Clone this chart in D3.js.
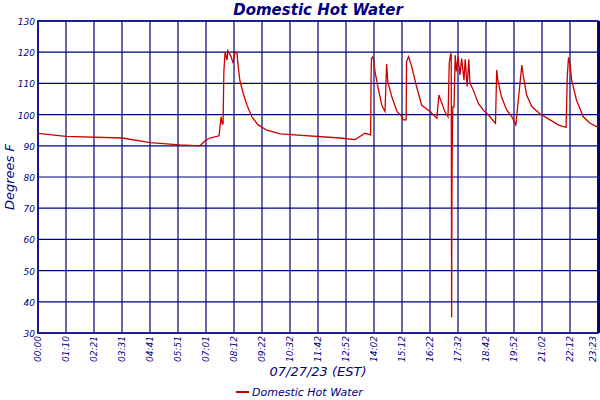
<!DOCTYPE html>
<html><head><meta charset="utf-8">
<script src="https://cdn.jsdelivr.net/npm/d3@7"></script>
<style>body{margin:0;background:#fff}</style></head>
<body><svg id="c" width="600" height="400"></svg>
<script>
const tickLabels=["00:00","01:10","02:21","03:31","04:41","05:51","07:01","08:12","09:22","10:32","11:42","12:52","14:02","15:12","16:22","17:32","18:42","19:52","21:02","22:12","23:23"];
const yTicks=[30,40,50,60,70,80,90,100,110,120,130];
const minutes=[0,70,211,281,356,406,419,431,454,459,462,464,466,469,474,476,484,489,494,499,501,506,514,524,536,552,574,607,757,795,820,834,835,836,840,845,852,862,870,874,877,887,900,913,915,923,924,929,937,949,962,983,1000,1005,1008,1020,1028,1031,1035,1036,1037,1038,1039,1040,1043,1046,1049,1053,1058,1062,1068,1071,1076,1080,1083,1091,1104,1116,1133,1147,1150,1153,1162,1175,1188,1198,1213,1217,1225,1238,1259,1284,1304,1324,1327,1330,1334,1338,1350,1367,1384,1404];
const temps=[94,93,92.5,91,90.3,90,91.6,92.5,93.2,99.3,97,97,113.8,120,117.5,120.5,118.6,116.5,120,119.8,116.5,111,107,103,99.3,96.7,95,93.8,92.5,92,94,93.5,111,118,118.6,113.8,109,103,101,116.2,110.5,105.7,101,99.3,98.3,98.3,117,118.6,115.4,109,103,101,98.8,106.3,105.2,101,99.3,116.4,119.6,119,35,80,95,102.5,102.5,119,113.8,118.6,112.7,118,111,117.7,109,117.7,110,108,103.6,101.5,99.3,97.2,114.3,111,105.7,101.5,99.3,96.7,115.9,112.2,106.3,102.6,100.2,98.3,96.7,95.9,112.2,118.3,116,111,104.7,99.3,97.2,95.9];
const navy="#000080", red="#cc0000", F="DejaVu Sans, sans-serif";
const svg=d3.select("#c");
const L=38,R=598,T=21,B=333;
const step=1404/20;
const x=d3.scaleLinear().domain([0,1404]).range([L,R]);
const y=d3.scaleLinear().domain([30,130]).range([B,T]);
const g=svg.append("g");
g.selectAll(".vg").data(tickLabels).enter().append("line")
 .attr("x1",(d,i)=>x(i*step)).attr("x2",(d,i)=>x(i*step)).attr("y1",T).attr("y2",B)
 .attr("stroke",navy).attr("stroke-width",1.2);
g.selectAll(".hg").data(yTicks).enter().append("line")
 .attr("x1",L).attr("x2",R).attr("y1",d=>y(d)).attr("y2",d=>y(d))
 .attr("stroke",navy).attr("stroke-width",1.2);
g.append("rect").attr("x",L).attr("y",T).attr("width",R-L).attr("height",B-T).attr("fill","none").attr("stroke",navy).attr("stroke-width",1.5);
g.append("line").attr("x1",R+1).attr("x2",R+1).attr("y1",T).attr("y2",B).attr("stroke",navy).attr("stroke-width",3);
g.selectAll(".yl").data(yTicks).enter().append("text")
 .attr("x",L-3).attr("y",d=>y(d)+4).attr("text-anchor","end")
 .attr("font-family",F).attr("font-style","italic").attr("font-size",9).attr("fill",navy).text(d=>d);
g.selectAll(".xl").data(tickLabels).enter().append("text")
 .attr("transform",(d,i)=>`translate(${Math.min(x(i*step)+3,596)},${B+3}) rotate(-90)`).attr("text-anchor","end")
 .attr("font-family",F).attr("font-style","italic").attr("font-size",9).attr("fill",navy).text(d=>d);
const data=minutes.map((m,i)=>({m,t:temps[i]}));
g.append("path").datum(data).attr("fill","none").attr("stroke",red).attr("stroke-width",1.3)
 .attr("d",d3.line().x(d=>x(d.m)).y(d=>y(d.t)));
svg.append("text").attr("x",318).attr("y",15).attr("text-anchor","middle").attr("font-family",F)
 .attr("font-style","italic").attr("font-weight","bold").attr("font-size",15).attr("fill",navy).text("Domestic Hot Water");
svg.append("text").attr("transform","translate(14,177) rotate(-90)").attr("text-anchor","middle").attr("font-family",F)
 .attr("font-style","italic").attr("font-size",13).attr("fill",navy).text("Degrees F");
svg.append("text").attr("x",318).attr("y",376).attr("text-anchor","middle").attr("font-family",F)
 .attr("font-style","italic").attr("font-size",13).attr("fill",navy).text("07/27/23 (EST)");
svg.append("line").attr("x1",236).attr("x2",249).attr("y1",392).attr("y2",392).attr("stroke",red).attr("stroke-width",2);
svg.append("text").attr("x",252).attr("y",396).attr("font-family",F)
 .attr("font-style","italic").attr("font-size",11).attr("fill",navy).text("Domestic Hot Water");
</script></body></html>
